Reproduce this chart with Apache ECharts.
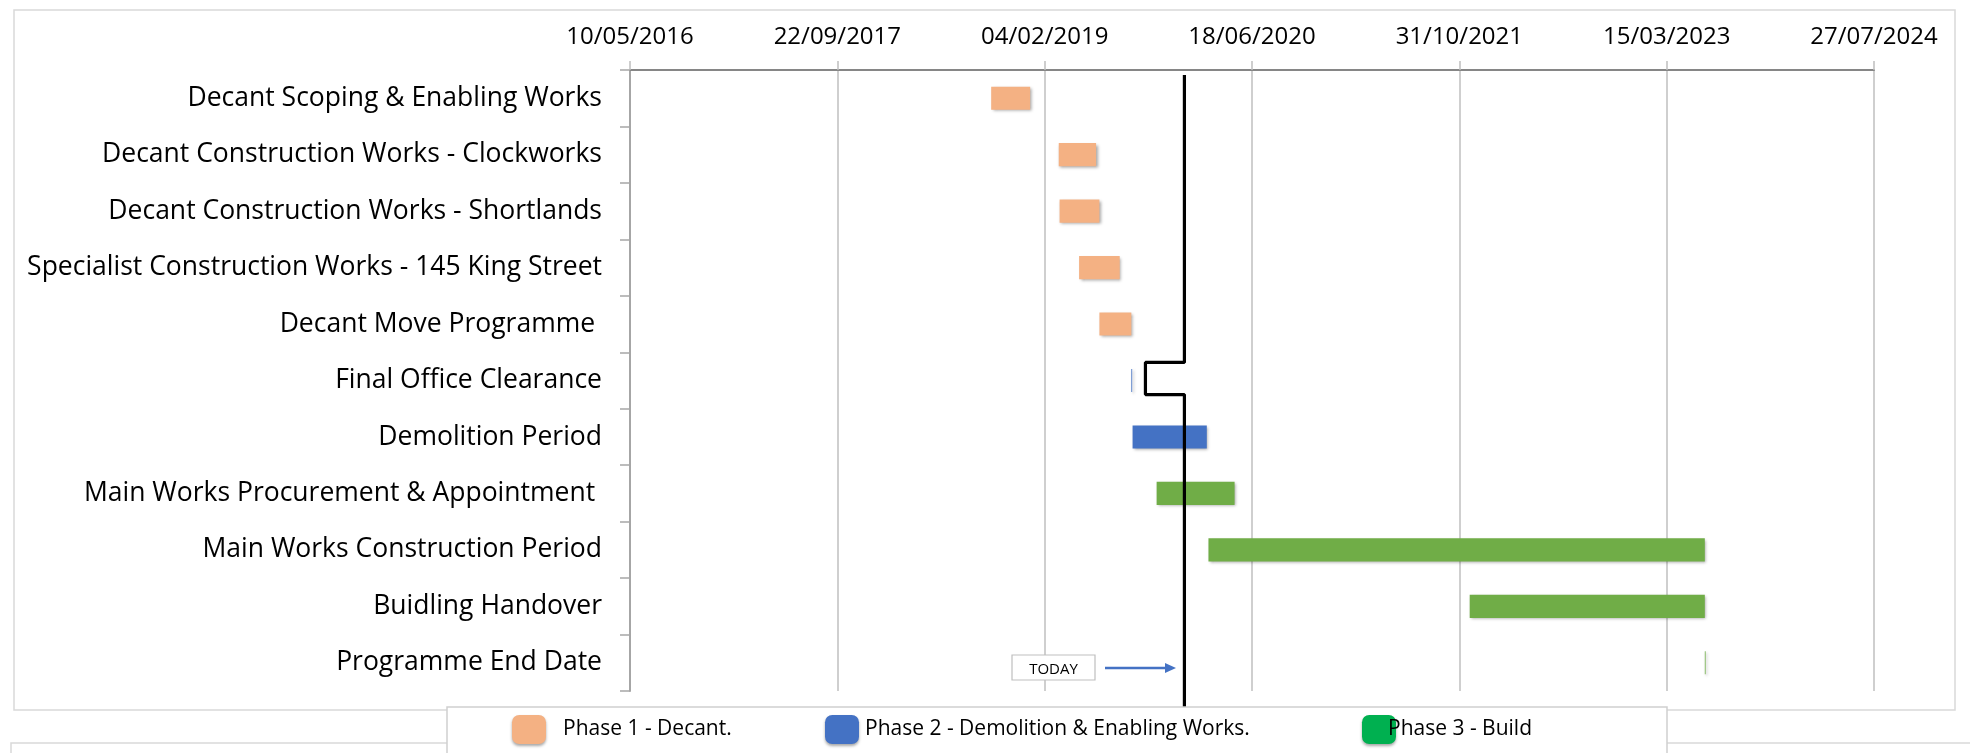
<!DOCTYPE html>
<html>
<head>
<meta charset="utf-8">
<script src="https://cdn.jsdelivr.net/npm/echarts@6/dist/echarts.min.js"></script>
<style>
html,body{margin:0;padding:0;background:#fff;}
#chart{width:1970px;height:753px;}
</style>
</head>
<body>
<div id="chart"></div>
<script>
// ---------- data ----------
const categories = [
  'Decant Scoping & Enabling Works',
  'Decant Construction Works - Clockworks',
  'Decant Construction Works - Shortlands',
  'Specialist Construction Works - 145 King Street',
  'Decant Move Programme ',
  'Final Office Clearance',
  'Demolition Period',
  'Main Works Procurement & Appointment ',
  'Main Works Construction Period',
  'Buidling Handover',
  'Programme End Date'
];
const taskPhase = [1, 1, 1, 1, 1, 2, 2, 3, 3, 3, 3];
const startDates = [
  '2018-09-28', '2019-03-10', '2019-03-12', '2019-04-28', '2019-06-16',
  '2019-09-01', '2019-09-04', '2019-11-01', '2020-03-05', '2021-11-25', '2023-06-15'
];
const endDates = [
  '2018-12-31', '2019-06-08', '2019-06-16', '2019-08-04', '2019-09-01',
  '2019-09-03', '2020-03-01', '2020-05-07', '2023-06-15', '2023-06-15', '2023-06-16'
];
const phaseNames = ['Phase 1 - Decant.', 'Phase 2 - Demolition & Enabling Works.', 'Phase 3 - Build'];
// axis: Excel date serials, 500-day ticks
const axisStartSerial = 42500;   // 10/05/2016
const axisEndSerial = 45500;     // 27/07/2024
const axisStepDays = 500;
// "today" marker line (date, row position)
const todayLineDates = ['2020-01-07', '2020-01-07', '2019-10-05', '2019-10-05', '2020-01-07', '2020-01-07'];
const todayLineRows = [0.09, 5.18, 5.18, 5.75, 5.75, 11.3];

// ---------- helpers ----------
const EPOCH = Date.UTC(1899, 11, 30);
function toSerial(s) {
  const p = s.split('-').map(Number);
  return Math.round((Date.UTC(p[0], p[1] - 1, p[2]) - EPOCH) / 864e5);
}
function serialLabel(v) {
  const d = new Date(EPOCH + v * 864e5);
  const dd = String(d.getUTCDate()).padStart(2, '0');
  const mm = String(d.getUTCMonth() + 1).padStart(2, '0');
  return dd + '/' + mm + '/' + d.getUTCFullYear();
}
const barColors = ['#F4B183', '#4472C4', '#70AD47'];
const legendColors = ['#F4B183', '#4472C4', '#00B050'];
const FONT = 'Open Sans';

function renderBar(params, api) {
  const y = api.value(0);
  const s = api.coord([api.value(1), y]);
  const e = api.coord([api.value(2), y]);
  const h = api.size([0, 1])[1] * 0.41;
  return {
    type: 'rect',
    shape: { x: s[0], y: s[1] - h / 2, width: Math.max(e[0] - s[0], 0.8), height: h },
    style: {
      fill: api.visual('color'),
      shadowColor: 'rgba(0,0,0,0.35)', shadowBlur: 3, shadowOffsetX: 1.5, shadowOffsetY: 1.5
    }
  };
}

const phaseSeries = phaseNames.map((name, pi) => ({
  name: name,
  type: 'custom',
  xAxisIndex: 0,
  yAxisIndex: 0,
  renderItem: renderBar,
  itemStyle: { color: barColors[pi] },
  encode: { x: [1, 2], y: 0 },
  z: 3,
  data: categories.map((c, i) => i).filter(i => taskPhase[i] === pi + 1)
    .map(i => [i, toSerial(startDates[i]), toSerial(endDates[i])])
}));

const todaySeries = {
  name: 'Today',
  type: 'line',
  xAxisIndex: 0,
  yAxisIndex: 1,
  data: todayLineDates.map((d, i) => [toSerial(d), todayLineRows[i]]),
  symbol: 'none',
  clip: false,
  lineStyle: { color: '#000', width: 3.2 },
  z: 5,
  silent: true
};

const legends = phaseNames.map((name, i) => ({
  data: [{ name: name, itemStyle: { color: legendColors[i], shadowColor: 'rgba(0,0,0,0.35)', shadowBlur: 3, shadowOffsetY: 2 } }],
  left: [512, 825, 1362][i],
  top: 715,
  orient: 'horizontal',
  icon: 'roundRect',
  itemWidth: 34,
  itemHeight: 29,
  itemGap: 0,
  padding: 0,
  textStyle: { fontFamily: FONT, fontSize: 21, color: '#000', padding: [0, 0, 0, [12, 1, -13][i]] },
  selectedMode: false,
  z: 30
}));

const chart = echarts.init(document.getElementById('chart'), null, { renderer: 'canvas' });
chart.setOption({
  backgroundColor: '#fff',
  animation: false,
  textStyle: { fontFamily: FONT },
  grid: { left: 630, right: 96, top: 70, bottom: 62, containLabel: false },
  legend: legends,
  xAxis: {
    type: 'value',
    position: 'top',
    min: axisStartSerial,
    max: axisEndSerial,
    interval: axisStepDays,
    axisLine: { show: true, lineStyle: { color: '#868686', width: 2 } },
    axisTick: { show: true, length: 9, lineStyle: { color: '#bfbfbf', width: 1.5 } },
    splitLine: { show: true, lineStyle: { color: '#bfbfbf', width: 1.5 } },
    axisLabel: {
      formatter: serialLabel, fontFamily: FONT, fontSize: 24, color: '#000', margin: 21,
      showMinLabel: true, showMaxLabel: true
    }
  },
  yAxis: [{
    type: 'category',
    inverse: true,
    data: categories,
    axisLine: { show: true, lineStyle: { color: '#a6a6a6', width: 2 } },
    axisTick: { show: true, length: 10, lineStyle: { color: '#a6a6a6', width: 1.5 } },
    splitLine: { show: false },
    axisLabel: { fontFamily: FONT, fontSize: 26.5, color: '#000', margin: 28 }
  }, {
    type: 'value',
    min: 0,
    max: 11,
    inverse: true,
    show: false,
    splitLine: { show: false }
  }],
  graphic: [
    { type: 'rect', z: 0, silent: true, shape: { x: 14, y: 10, width: 1941, height: 700 },
      style: { fill: 'none', stroke: '#d9d9d9', lineWidth: 1.5 } },
    { type: 'rect', z: 0, silent: true, shape: { x: 11, y: 743, width: 1970, height: 40 },
      style: { fill: 'none', stroke: '#d9d9d9', lineWidth: 1.5 } },
    { type: 'rect', z: 20, silent: true, shape: { x: 447, y: 707, width: 1220, height: 60 },
      style: { fill: '#fff', stroke: '#d0d0d0', lineWidth: 1.5 } },
    { type: 'rect', z: 20, silent: true, shape: { x: 1012, y: 655, width: 83, height: 25 },
      style: { fill: '#fff', stroke: '#bfbfbf', lineWidth: 1.2 } },
    { type: 'text', z: 21, silent: true, x: 1053.5, y: 670,
      style: { text: 'TODAY', fontFamily: FONT, fontSize: 15, fill: '#000', align: 'center', verticalAlign: 'middle' } },
    { type: 'line', z: 21, silent: true, shape: { x1: 1105, y1: 668, x2: 1167, y2: 668 },
      style: { stroke: '#4472C4', lineWidth: 2.5 } },
    { type: 'polygon', z: 21, silent: true, shape: { points: [[1176, 668], [1165, 663], [1165, 673]] },
      style: { fill: '#4472C4' } }
  ],
  series: phaseSeries.concat([todaySeries])
});
</script>
</body>
</html>
